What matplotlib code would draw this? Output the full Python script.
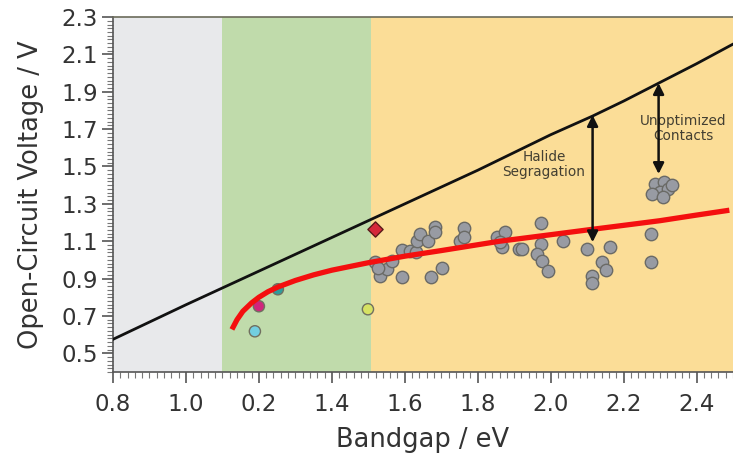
import matplotlib.pyplot as plt
from matplotlib.ticker import MultipleLocator

# Shockley-Queisser style limit (black) and fitted trend (red)
limit_eg = [0.8, 1.0, 1.1, 1.2, 1.3, 1.4, 1.5, 1.6, 1.8, 2.0, 2.115, 2.2, 2.296, 2.4, 2.5]
limit_voc = [0.575, 0.76, 0.85, 0.94, 1.03, 1.12, 1.21, 1.30, 1.48, 1.67, 1.77, 1.85, 1.946, 2.05, 2.155]

trend_eg = [1.126, 1.14, 1.156, 1.18, 1.20, 1.225, 1.252, 1.30, 1.35, 1.40, 1.50,
            1.60, 1.70, 1.86, 2.00, 2.115, 2.20, 2.30, 2.40, 2.49]
trend_voc = [0.628, 0.68, 0.725, 0.77, 0.80, 0.83, 0.855, 0.89, 0.92, 0.945, 0.985,
             1.02, 1.05, 1.10, 1.135, 1.164, 1.185, 1.21, 1.24, 1.266]

# Mixed-halide perovskite devices
dev_eg = [1.518, 1.532, 1.551, 1.564, 1.526, 1.592, 1.592, 1.614, 1.630, 1.633,
          1.641, 1.663, 1.682, 1.682, 1.671, 1.701, 1.762, 1.751, 1.762, 1.852,
          1.874, 1.866, 1.912, 1.860, 1.921, 1.973, 1.973, 1.962, 1.975, 1.992,
          2.033, 2.101, 2.164, 2.142, 2.153, 2.112, 2.112, 2.274, 2.274,
          2.285, 2.312, 2.299, 2.321, 2.279, 2.307, 2.332]
dev_voc = [0.987, 0.912, 0.950, 0.993, 0.955, 0.907, 1.052, 1.046, 1.041, 1.100,
           1.137, 1.100, 1.175, 1.148, 0.907, 0.955, 1.170, 1.100, 1.121, 1.121,
           1.148, 1.068, 1.057, 1.095, 1.057, 1.196, 1.084, 1.030, 0.993, 0.939,
           1.100, 1.057, 1.068, 0.987, 0.945, 0.912, 0.875, 1.137, 0.987,
           1.405, 1.416, 1.362, 1.378, 1.352, 1.336, 1.400]

# Other absorbers
other_eg = [1.189, 1.200, 1.252, 1.499]
other_voc = [0.618, 0.752, 0.843, 0.736]
other_colors = ["#72cfe0", "#d0267c", "#2f9c9c", "#d6e263"]
diamond_eg, diamond_voc = 1.518, 1.164

xtick_pos = [0.8, 1.0, 1.2, 1.4, 1.6, 1.8, 2.0, 2.2, 2.4]
xtick_labels = ["0.8", "1.0", "0.2", "1.4", "1.6", "1.8", "2.0", "2.2", "2.4"]
ytick_pos = [0.5, 0.7, 0.9, 1.1, 1.3, 1.5, 1.7, 1.9, 2.1, 2.3]

fig = plt.figure(figsize=(7.33, 4.59), dpi=100)
ax = fig.add_axes([0.1542, 0.1895, 0.8458, 0.7734])

# Bandgap regions
ax.axvspan(0.8, 1.1, color="#e8e9eb", lw=0, zorder=0)
ax.axvspan(1.1, 1.507, color="#c0dbab", lw=0, zorder=0)
ax.axvspan(1.507, 2.5, color="#fbdd97", lw=0, zorder=0)

ax.plot(limit_eg, limit_voc, color="#111111", lw=2.0, zorder=3)
ax.scatter(dev_eg, dev_voc, s=80, color="#989ba3", edgecolor="#6a6a66", lw=1.0, zorder=4)
ax.scatter(other_eg, other_voc, s=65, color=other_colors, edgecolor="#707060", lw=1.0, zorder=4)
ax.scatter([diamond_eg], [diamond_voc], s=60, marker="D", color="#d6283a", edgecolor="#5a1a1a", lw=1.0, zorder=5)
ax.plot(trend_eg, trend_voc, color="#f40f0f", lw=3.8, solid_capstyle="butt",
        solid_joinstyle="round", zorder=5)

# Loss arrows
arrow = dict(arrowstyle="<|-|>", color="#111111", lw=1.8, mutation_scale=16, shrinkA=0, shrinkB=0)
ax.annotate("", xy=(2.115, 1.095), xytext=(2.115, 1.775), arrowprops=arrow, zorder=6)
ax.annotate("", xy=(2.296, 1.46), xytext=(2.296, 1.946), arrowprops=arrow, zorder=6)
ax.text(1.982, 1.51, "Halide\nSegragation", ha="center", va="center", fontsize=9.8,
        color="#433f32", linespacing=1.1, zorder=5)
ax.text(2.363, 1.703, "Unoptimized\nContacts", ha="center", va="center", fontsize=9.8,
        color="#433f32", linespacing=1.1, zorder=5)

ax.set_xlim(0.8, 2.5)
ax.set_ylim(0.4, 2.3)
ax.set_xticks(xtick_pos)
ax.set_xticklabels(xtick_labels)
ax.set_yticks(ytick_pos)
ax.xaxis.set_minor_locator(MultipleLocator(0.02))
ax.yaxis.set_minor_locator(MultipleLocator(0.02))
ax.tick_params(which="major", length=8, width=1.2, color="#555555", labelsize=16.5,
               labelcolor="#333333", direction="out")
ax.tick_params(axis="x", which="major", pad=7)
ax.tick_params(axis="y", which="major", pad=3)
ax.tick_params(which="minor", length=4, width=0.8, color="#777777", direction="out")

ax.set_xlabel("Bandgap / eV", fontsize=18.5, color="#333333", labelpad=8)
ax.set_ylabel("Open-Circuit Voltage / V", fontsize=18.5, color="#333333", labelpad=12)

for side in ["left", "bottom"]:
    ax.spines[side].set_color("#555555")
    ax.spines[side].set_linewidth(1.2)
ax.spines["top"].set_color("#6b6b5a")
ax.spines["top"].set_linewidth(1.2)
ax.spines["right"].set_visible(False)

fig.savefig("out.png", dpi=100)
